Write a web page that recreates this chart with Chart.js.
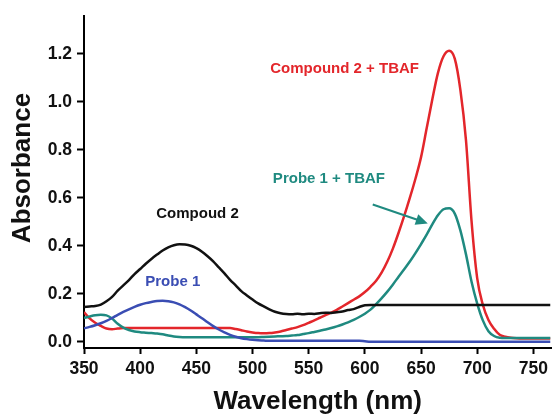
<!DOCTYPE html>
<html>
<head>
<meta charset="utf-8">
<script src="https://cdn.jsdelivr.net/npm/chart.js@4"></script>
<style>
  html, body { margin: 0; padding: 0; background: #fff; }
  #wrap { width: 553px; height: 416px; }
</style>
</head>
<body>
<div id="wrap"><canvas id="c" width="553" height="416"></canvas></div>
<script>
/* UV-vis absorption spectra */

const wavelengths = [350,355,360,365,370,375,380,385,390,395,400,405,410,415,420,425,430,435,440,445,
  450,455,460,465,470,475,480,485,490,495,500,505,510,515,520,525,530,535,540,545,
  550,555,560,565,570,575,580,585,590,595,600,605,610,615,620,625,630,635,640,645,
  650,655,660,665,670,675,680,685,690,695,700,705,710,715,720,725,730,735,740,745,
  750,755,760,765];

const compound2 = [.146,.148,.150,.156,.170,.188,.214,.236,.258,.283,.304,.326,.346,.364,.381,.394,.403,.407,.406,.401,
  .391,.376,.357,.336,.311,.286,.259,.236,.212,.194,.177,.161,.148,.136,.126,.120,.117,.116,.118,.116,
  .118,.117,.120,.122,.121,.124,.127,.133,.137,.146,.153,.154,.154,.154,.154,.154,.154,.154,.154,.154,
  .154,.154,.154,.154,.154,.154,.154,.154,.154,.154,.154,.154,.154,.154,.154,.154,.154,.154,.154,.154,
  .154,.154,.154,.154];

const probe1 = [.057,.063,.070,.078,.088,.100,.113,.125,.136,.146,.155,.162,.167,.171,.172,.170,.165,.157,.145,.131,
  .115,.099,.082,.066,.052,.040,.030,.022,.016,.012,.009,.007,.006,.005,.005,.005,.005,.005,.005,.005,
  .005,.005,.005,.005,.005,.005,.005,.005,.005,.005,.003,.001,.001,.001,.001,.001,.001,.001,.001,.001,
  .001,.001,.001,.001,.001,.001,.001,.001,.001,.001,.001,.001,.001,.001,.001,.001,.001,.001,.001,.001,
  .001,.001,.001,.001];

const compound2Tbaf = [.125,.098,.080,.067,.056,.053,.056,.058,.058,.058,.058,.058,.058,.058,.058,.058,.058,.058,.058,.058,
  .058,.058,.058,.058,.058,.058,.058,.054,.049,.044,.040,.037,.036,.037,.040,.044,.050,.056,.062,.070,
  .080,.090,.101,.112,.122,.134,.148,.162,.176,.190,.208,.230,.255,.290,.335,.390,.455,.525,.600,.680,
  .770,.890,1.010,1.120,1.190,1.213,1.180,1.050,.840,.500,.265,.155,.092,.055,.030,.022,.018,.016,.015,.015,
  .015,.015,.015,.015];

const probe1Tbaf = [.100,.106,.111,.113,.111,.098,.076,.060,.050,.044,.041,.039,.037,.035,.032,.027,.023,.021,.020,.020,
  .020,.020,.020,.020,.020,.020,.020,.020,.020,.020,.020,.020,.021,.022,.023,.024,.025,.027,.029,.033,
  .037,.042,.047,.052,.058,.065,.073,.082,.092,.104,.118,.135,.158,.183,.210,.240,.272,.303,.335,.370,
  .408,.447,.490,.528,.553,.557,.535,.465,.365,.250,.160,.090,.045,.025,.018,.017,.017,.017,.017,.017,
  .017,.017,.017,.017];

const xTicks = [350,400,450,500,550,600,650,700,750];
const yTicks = [0,0.2,0.4,0.6,0.8,1.0,1.2];
const xTitle = 'Wavelength (nm)';
const yTitle = 'Absorbance';

const seriesNames  = ['Compoud 2','Probe 1','Probe 1 + TBAF','Compound 2 + TBAF'];
const seriesColors = ['#111111','#3a4db3','#1f8a80','#e3262b'];
const seriesValues = [compound2, probe1, probe1Tbaf, compound2Tbaf];

/* text labels on the plot, placed in data units */
const notes = [
  { text: 'Compound 2 + TBAF', x: 582, y: 1.138, color: '#e3262b' },
  { text: 'Probe 1 + TBAF',    x: 568, y: 0.681, color: '#1f8a80' },
  { text: 'Compoud 2',         x: 451, y: 0.532, color: '#111111' },
  { text: 'Probe 1',           x: 429, y: 0.249, color: '#3a4db3' }
];
const arrow = { x0: 607, y0: 0.573, x1: 656, y1: 0.494, color: '#1f8a80' };

const FONT = "'Liberation Sans', Arial, sans-serif";

const notesPlugin = {
  id: 'notes',
  afterDatasetsDraw(chart) {
    const { ctx, chartArea, scales: { x, y } } = chart;
    ctx.save();
    ctx.font = 'bold 15px ' + FONT;
    ctx.textAlign = 'center';
    ctx.textBaseline = 'middle';
    notes.forEach(n => {
      ctx.fillStyle = n.color;
      ctx.fillText(n.text, x.getPixelForValue(n.x), y.getPixelForValue(n.y));
    });

    // стрелка к пику
    const ax0 = x.getPixelForValue(arrow.x0), ay0 = y.getPixelForValue(arrow.y0);
    const ax1 = x.getPixelForValue(arrow.x1), ay1 = y.getPixelForValue(arrow.y1);
    const c = Math.cos(Math.atan2(ay1 - ay0, ax1 - ax0)), s = Math.sin(Math.atan2(ay1 - ay0, ax1 - ax0));
    ctx.strokeStyle = arrow.color;
    ctx.fillStyle = arrow.color;
    ctx.lineWidth = 2;
    ctx.beginPath();
    ctx.moveTo(ax0, ay0);
    ctx.lineTo(ax1 - 8 * c, ay1 - 8 * s);
    ctx.stroke();
    ctx.beginPath();
    ctx.moveTo(ax1, ay1);
    ctx.lineTo(ax1 - 12 * c + 5.5 * s, ay1 - 12 * s - 5.5 * c);
    ctx.lineTo(ax1 - 12 * c - 5.5 * s, ay1 - 12 * s + 5.5 * c);
    ctx.closePath();
    ctx.fill();

    // подписи осей
    ctx.fillStyle = '#111';
    ctx.font = 'bold 26px ' + FONT;
    ctx.fillText(xTitle, (chartArea.left + chartArea.right) / 2, 402);
    ctx.translate(23, 168);
    ctx.rotate(-Math.PI / 2);
    ctx.fillText(yTitle, 0, 0);
    ctx.restore();
  }
};

const datasets = seriesValues.map((vals, i) => ({
  label: seriesNames[i],
  data: wavelengths.map((w, k) => ({ x: w, y: vals[k] })),
  borderColor: seriesColors[i],
  borderWidth: 2.5,
  pointRadius: 0,
  fill: false,
  cubicInterpolationMode: 'monotone'
}));

new Chart(document.getElementById('c').getContext('2d'), {
  type: 'line',
  data: { datasets },
  plugins: [notesPlugin],
  options: {
    responsive: false,
    animation: false,
    layout: { padding: { top: 15, right: 0, left: 0, bottom: 0 } },
    plugins: { legend: { display: false }, tooltip: { enabled: false } },
    scales: {
      x: {
        type: 'linear',
        min: 350, max: 766,
        afterBuildTicks: s => { s.ticks = xTicks.map(v => ({ value: v })); },
        afterFit: s => { s.height = 68; },
        border: { color: '#000', width: 2 },
        grid: { drawOnChartArea: false, tickLength: 6, tickColor: '#000', tickWidth: 2 },
        ticks: { color: '#111', font: { family: FONT, size: 17.5, weight: 'bold' }, padding: 5, maxRotation: 0 }
      },
      y: {
        type: 'linear',
        min: -0.025, max: 1.36,
        afterBuildTicks: s => { s.ticks = yTicks.map(v => ({ value: v })); },
        afterFit: s => { s.width = 84; },
        border: { color: '#000', width: 2 },
        grid: { drawOnChartArea: false, tickLength: 7, tickColor: '#000', tickWidth: 2 },
        ticks: { color: '#111', font: { family: FONT, size: 17.5, weight: 'bold' }, padding: 5,
                 callback: v => v.toFixed(1) }
      }
    }
  }
});
</script>
</body>
</html>
